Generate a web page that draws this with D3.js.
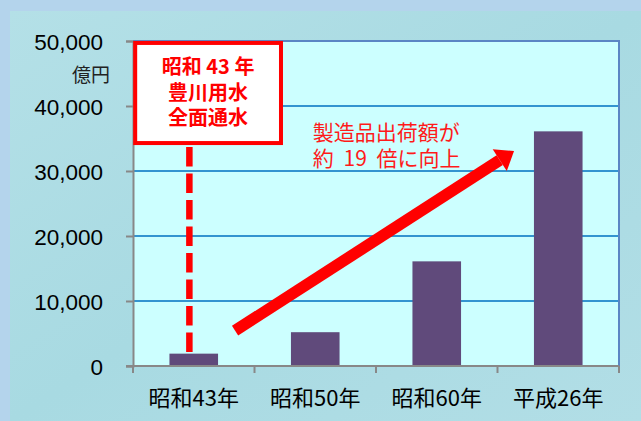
<!DOCTYPE html>
<html>
<head>
<meta charset="utf-8">
<script src="https://cdn.jsdelivr.net/npm/d3@7"></script>
<style>
  body { margin: 0; padding: 0; overflow: hidden; }
  svg { display: block; }
  text { font-family: "Liberation Sans", "Noto Sans CJK JP", sans-serif; }
</style>
</head>
<body>
<svg id="chart"></svg>
<script>
// data
const categories = ["昭和43年", "昭和50年", "昭和60年", "平成26年"];
const values = [1900, 5200, 16100, 36100];   // 億円
const yTicks = [0, 10000, 20000, 30000, 40000, 50000];
const unitLabel = "億円";
const boxLines = ["昭和 43 年", "豊川用水", "全面通水"];
const noteLines = ["製造品出荷額が", "約 19 倍に向上"];

const width = 641, height = 421;
const margin = {top: 41, right: 22, bottom: 55, left: 133};

const svg = d3.select("#chart")
  .attr("width", width)
  .attr("height", height);

// background: light blue frame + water panel
const defs = svg.append("defs");
const grad = defs.append("linearGradient").attr("id", "water")
  .attr("x1", 0).attr("y1", 0).attr("x2", 1).attr("y2", 1);
grad.append("stop").attr("offset", "0%").attr("stop-color", "#b4e0e7");
grad.append("stop").attr("offset", "50%").attr("stop-color", "#a8dae2");
grad.append("stop").attr("offset", "100%").attr("stop-color", "#b2dee6");

svg.append("rect").attr("width", width).attr("height", height).attr("fill", "#b4d4ec");
svg.append("rect").attr("x", 10).attr("y", 11)
  .attr("width", width - 10).attr("height", height - 11)
  .attr("fill", "url(#water)");

const x = d3.scaleBand()
  .domain(categories)
  .range([margin.left, width - margin.right])
  .paddingInner(0.6)
  .paddingOuter(0.3);

// continuous position along the category axis, for annotations
const xi = d3.scaleLinear()
  .domain([0, categories.length])
  .range([margin.left, width - margin.right]);

const y = d3.scaleLinear()
  .domain([0, 50000])
  .range([height - margin.bottom, margin.top]);

// plot area
svg.append("rect")
  .attr("x", margin.left).attr("y", y(50000))
  .attr("width", width - margin.right - margin.left)
  .attr("height", y(0) - y(50000))
  .attr("fill", "#ccffff");

// grid lines
svg.append("g")
  .selectAll("line")
  .data(yTicks.filter(d => d > 0 && d < 50000))
  .enter()
  .append("line")
  .attr("x1", margin.left).attr("x2", width - margin.right)
  .attr("y1", d => y(d)).attr("y2", d => y(d))
  .attr("stroke", "#0070c0")
  .attr("stroke-width", 1.5);

// top / right border
svg.append("path")
  .attr("d", `M${margin.left},${y(50000)}H${width - margin.right}V${y(0)}`)
  .attr("fill", "none")
  .attr("stroke", "#5a86c4")
  .attr("stroke-width", 2);

// bars
svg.append("g")
  .selectAll("rect")
  .data(values)
  .enter()
  .append("rect")
  .attr("x", (d, i) => x(categories[i]))
  .attr("y", d => y(d))
  .attr("width", x.bandwidth())
  .attr("height", d => y(0) - y(d))
  .attr("fill", "#604a7b");

// y axis
const yAxis = svg.append("g")
  .attr("transform", `translate(${margin.left},0)`)
  .call(d3.axisLeft(y).tickValues(yTicks).tickSize(7).tickPadding(23)
    .tickFormat(d3.format(",")));
yAxis.select(".domain").attr("stroke", "#888").attr("stroke-width", 2);
yAxis.selectAll(".tick line").attr("stroke", "#888").attr("stroke-width", 2);
yAxis.selectAll(".tick text")
  .attr("font-size", 22.5)
  .attr("fill", "#000")
  .attr("dy", "0.36em")
  .style("font-family", "'Liberation Sans', sans-serif");

svg.append("text")
  .attr("x", margin.left - 23)
  .attr("y", y(44800))
  .attr("dy", "0.36em")
  .attr("text-anchor", "end")
  .attr("font-size", 19)
  .attr("fill", "#222")
  .style("font-family", "'Noto Sans CJK JP', sans-serif")
  .text(unitLabel);

// x axis: ticks at category boundaries
const xAxis = svg.append("g")
  .attr("transform", `translate(0,${y(0)})`);
xAxis.append("line")
  .attr("x1", margin.left - 7).attr("x2", width - margin.right)
  .attr("stroke", "#888").attr("stroke-width", 2);
xAxis.selectAll("line.tk")
  .data(d3.range(categories.length + 1))
  .enter()
  .append("line")
  .attr("class", "tk")
  .attr("x1", d => xi(d)).attr("x2", d => xi(d))
  .attr("y1", 0).attr("y2", 7)
  .attr("stroke", "#888").attr("stroke-width", 2);
xAxis.selectAll("text")
  .data(categories)
  .enter()
  .append("text")
  .attr("x", d => x(d) + x.bandwidth() / 2)
  .attr("y", 32)
  .attr("dy", "0.36em")
  .attr("text-anchor", "middle")
  .attr("font-size", 22)
  .attr("fill", "#000")
  .style("font-family", "'Noto Sans CJK JP', sans-serif")
  .text(d => d);

// annotation: dashed line at 昭和43年
svg.append("line")
  .attr("x1", xi(0.464)).attr("x2", xi(0.464))
  .attr("y1", y(33700)).attr("y2", y(values[0]))
  .attr("stroke", "#ff0000")
  .attr("stroke-width", 6.5)
  .attr("stroke-dasharray", "19.5,7");

// annotation box
const boxX0 = xi(0.018), boxX1 = xi(1.218);
const boxY0 = y(49700), boxY1 = y(34300);
svg.append("rect")
  .attr("x", boxX0).attr("y", boxY0)
  .attr("width", boxX1 - boxX0).attr("height", boxY1 - boxY0)
  .attr("fill", "#ffffff")
  .attr("stroke", "#ff0000")
  .attr("stroke-width", 4);
svg.append("text")
  .attr("text-anchor", "middle")
  .attr("font-size", 20)
  .attr("font-weight", "bold")
  .attr("fill", "#ff0000")
  .style("font-family", "'Noto Sans CJK JP', sans-serif")
  .selectAll("tspan")
  .data(boxLines)
  .enter()
  .append("tspan")
  .attr("x", (boxX0 + boxX1) / 2)
  .attr("y", (d, i) => y(46000 - i * 3900))
  .attr("dy", "0.36em")
  .text(d => d);

// annotation: growth arrow
const ax0 = xi(0.84), ay0 = y(5430);
const ax1 = xi(3.136), ay1 = y(33080);
const ang = Math.atan2(ay1 - ay0, ax1 - ax0);
const headLen = 17, headHalf = 13;
const bx = ax1 - headLen * Math.cos(ang), by = ay1 - headLen * Math.sin(ang);
svg.append("line")
  .attr("x1", ax0).attr("y1", ay0)
  .attr("x2", bx).attr("y2", by)
  .attr("stroke", "#ff0000")
  .attr("stroke-width", 11.5);
svg.append("polygon")
  .attr("points", [
    [ax1, ay1],
    [bx + headHalf * Math.sin(ang), by - headHalf * Math.cos(ang)],
    [bx - headHalf * Math.sin(ang), by + headHalf * Math.cos(ang)]
  ].map(p => p.join(",")).join(" "))
  .attr("fill", "#ff0000");

// annotation text
svg.append("text")
  .attr("font-size", 21)
  .attr("fill", "#ff1a1a")
  .style("font-family", "'Noto Sans CJK JP', sans-serif")
  .style("word-spacing", "5px")
  .selectAll("tspan")
  .data(noteLines)
  .enter()
  .append("tspan")
  .attr("x", xi(1.48))
  .attr("y", (d, i) => y(36000 - i * 4000))
  .attr("dy", "0.36em")
  .text(d => d);
</script>
</body>
</html>
